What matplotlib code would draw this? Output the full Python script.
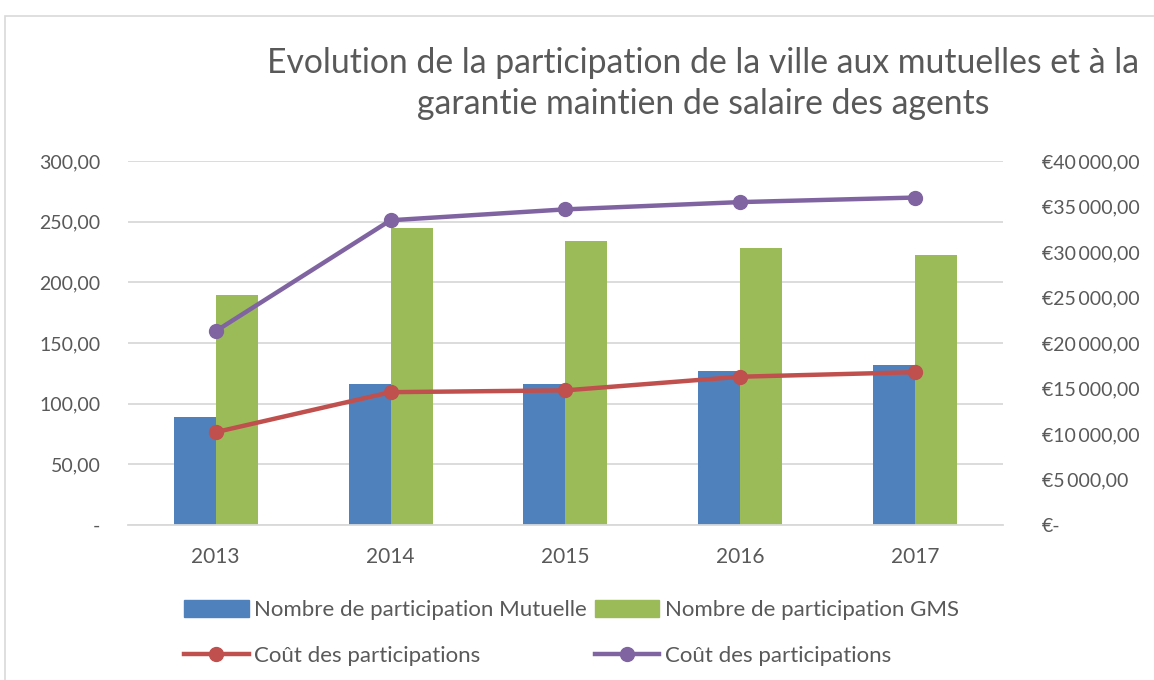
import matplotlib.pyplot as plt
from matplotlib.patches import Rectangle, Patch
from matplotlib.lines import Line2D
from matplotlib.ticker import FuncFormatter, MultipleLocator
import numpy as np

years = ["2013", "2014", "2015", "2016", "2017"]
nb_mutuelle = [89, 116, 116, 127, 132]
nb_gms = [190, 245, 234, 228, 223]
cout_mutuelle = [10200, 14600, 14800, 16300, 16800]
cout_gms = [21300, 33500, 34700, 35500, 36000]

BLUE = "#4F81BD"
GREEN = "#9BBB59"
RED = "#C0504D"
PURPLE = "#8064A2"
TXT = "#595959"
GRID = "#D9D9D9"

plt.rcParams['font.family'] = ['Lato', 'DejaVu Sans']

fig = plt.figure(figsize=(11.54, 6.8), dpi=100)
fig.patches.append(Rectangle((5 / 1154, -0.05), 1.1, 1 - 16 / 680 + 0.05,
                             transform=fig.transFigure, fill=False,
                             edgecolor=GRID, linewidth=1.2))

ax = fig.add_axes([0.111, 0.228, 0.758, 0.535])
x = np.arange(len(years))
w = 0.24
ax.bar(x - w / 2, nb_mutuelle, w, color=BLUE, zorder=2)
ax.bar(x + w / 2, nb_gms, w, color=GREEN, zorder=2)
ax.set_xlim(-0.5, len(years) - 0.5)
ax.set_ylim(0, 300)
ax.yaxis.set_major_locator(MultipleLocator(50))
ax.yaxis.set_major_formatter(FuncFormatter(
    lambda v, p: "-" if v == 0 else f"{v:.2f}".replace(".", ",")))
ax.set_xticks(x)
ax.set_xticklabels(years)
ax.grid(axis="y", color=GRID, linewidth=1.3, zorder=0)
ax.set_axisbelow(True)
for s in ["top", "left", "right"]:
    ax.spines[s].set_visible(False)
ax.spines["bottom"].set_color(GRID)
ax.spines["bottom"].set_linewidth(1.3)
ax.tick_params(axis="y", length=0, labelsize=14, colors=TXT, pad=20)
ax.tick_params(axis="x", length=0, labelsize=15, colors=TXT, pad=16)

ax2 = ax.twinx()
ax2.plot(x, cout_mutuelle, color=RED, linewidth=3.2, marker="o", markersize=10)
ax2.plot(x, cout_gms, color=PURPLE, linewidth=3.2, marker="o", markersize=10)
ax2.set_ylim(0, 40000)
ax2.yaxis.set_major_locator(MultipleLocator(5000))


def euro(v, p):
    if v == 0:
        return "€-"
    s = f"{v:,.2f}".replace(",", "\u2009").replace(".", ",")
    return "€" + s


ax2.yaxis.set_major_formatter(FuncFormatter(euro))
for s in ax2.spines.values():
    s.set_visible(False)
ax2.tick_params(axis="y", length=0, labelsize=14, colors=TXT, pad=28)

fig.text(0.609, 0.877, "Evolution de la participation de la ville aux mutuelles et à la\n"
         "garantie maintien de salaire des agents",
         ha="center", va="center", fontsize=24.3, color=TXT,
         linespacing=1.35)

handles = [
    Patch(color=BLUE, label="Nombre de participation Mutuelle"),
    Line2D([], [], color=RED, linewidth=3.2, marker="o", markersize=10,
           label="Coût des participations"),
    Patch(color=GREEN, label="Nombre de participation GMS"),
    Line2D([], [], color=PURPLE, linewidth=3.2, marker="o", markersize=10,
           label="Coût des participations"),
]
leg = fig.legend(handles=handles, ncol=2, loc="center left",
                 bbox_to_anchor=(0.150, 0.069), frameon=False, fontsize=16,
                 handlelength=2.9, handleheight=0.8, handletextpad=0.25,
                 columnspacing=0.35, labelspacing=1.15, borderpad=0)
for t in leg.get_texts():
    t.set_color(TXT)

fig.savefig("out.png", dpi=100)
plt.close(fig)
